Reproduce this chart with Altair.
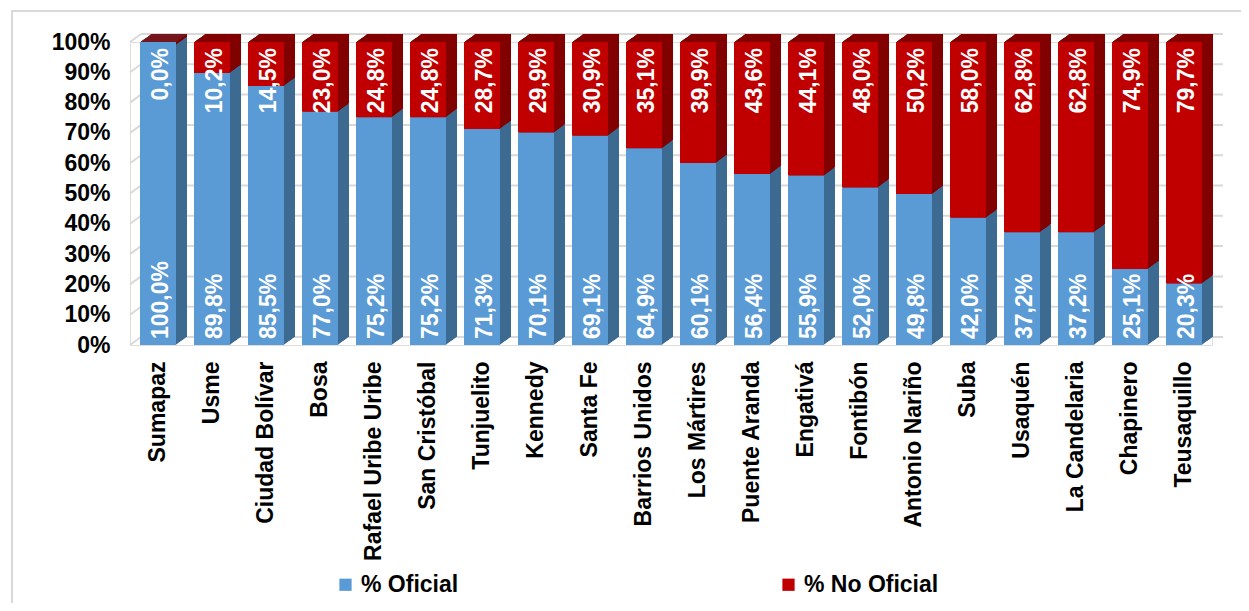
import altair as alt
import pandas as pd

distritos = ["Sumapaz", "Usme", "Ciudad Bolívar", "Bosa", "Rafael Uribe Uribe",
             "San Cristóbal", "Tunjuelito", "Kennedy", "Santa Fe", "Barrios Unidos",
             "Los Mártires", "Puente Aranda", "Engativá", "Fontibón", "Antonio Nariño",
             "Suba", "Usaquén", "La Candelaria", "Chapinero", "Teusaquillo"]
oficial = [100.0, 89.8, 85.5, 77.0, 75.2, 75.2, 71.3, 70.1, 69.1, 64.9,
           60.1, 56.4, 55.9, 52.0, 49.8, 42.0, 37.2, 37.2, 25.1, 20.3]
no_oficial = [0.0, 10.2, 14.5, 23.0, 24.8, 24.8, 28.7, 29.9, 30.9, 35.1,
              39.9, 43.6, 44.1, 48.0, 50.2, 58.0, 62.8, 62.8, 74.9, 79.7]
series = ["% Oficial", "% No Oficial"]
y_ticks = [0.0, 0.1, 0.2, 0.3, 0.4, 0.5, 0.6, 0.7, 0.8, 0.9, 1.0]

FRONT = ["#5B9BD5", "#C00000"]
DARK = ["#3D6A92", "#820000"]
FONT = "Liberation Sans"
W, H = 1082, 303
DX, DY = 11, 8
NCOPY = 11

rows = []
for d, o, n in zip(distritos, oficial, no_oficial):
    rows.append({"distrito": d, "serie": series[0], "ord": 0, "value": o / 100, "dark": DARK[0]})
    rows.append({"distrito": d, "serie": series[1], "ord": 1, "value": n / 100, "dark": DARK[1]})
df = pd.DataFrame(rows)

lab = pd.DataFrame({
    "distrito": distritos,
    "lab_o": [f"{v:.1f}%".replace(".", ",") for v in oficial],
    "lab_n": [f"{v:.1f}%".replace(".", ",") for v in no_oficial],
})
grid = pd.DataFrame({"t": y_ticks})

xaxis = alt.Axis(title=None, labelAngle=-90, labelFontSize=23, labelFont=FONT,
                 labelFontWeight="bold", labelColor="#000000", labelPadding=16,
                 domain=False, ticks=False, labelLimit=400)
xenc = alt.X("distrito:N", sort=distritos,
             scale=alt.Scale(paddingInner=0.333, paddingOuter=0.185), axis=xaxis)
yscale = alt.Scale(domain=[0, 1], nice=False)
yaxis = alt.Axis(title=None, values=y_ticks, format=".0%", labelFontSize=23,
                 labelFont=FONT, labelFontWeight="bold", labelColor="#000000",
                 labelPadding=20, domain=False, ticks=False, grid=False,
                 labelOverlap=False)
yenc = alt.Y("value:Q", stack="zero", scale=yscale, axis=yaxis)

layers = []

# back wall gridlines
g1 = alt.Chart(grid).mark_rule(color="#D9D9D9", strokeWidth=2, xOffset=DX, x2Offset=DX,
                                yOffset=-DY, y2Offset=-DY).encode(
    x=alt.value(0), x2=alt.value(W), y=alt.Y("t:Q", scale=yscale, axis=yaxis))
g2 = alt.Chart(grid).mark_rule(color="#D9D9D9", strokeWidth=2, y2Offset=-DY).encode(
    x=alt.value(0), x2=alt.value(DX), y=alt.Y("t:Q", scale=yscale, axis=yaxis), y2="t:Q")
layers += [g1, g2]

# frame
frame = alt.Chart(pd.DataFrame({"a": [0]})).mark_rect(
    fill="transparent", stroke="#D9D9D9", strokeWidth=2
).encode(x=alt.value(-118), x2=alt.value(1130), y=alt.value(-31), y2=alt.value(640))
layers.append(frame)

# 3D depth copies (back to front)
base = alt.Chart(df)
topd = alt.Chart(pd.DataFrame({"distrito": distritos}))
for k in range(NCOPY, 0, -1):
    ox = DX * k / NCOPY
    oy = -DY * k / NCOPY
    layers.append(base.mark_bar(xOffset=ox, x2Offset=ox, yOffset=oy, y2Offset=oy).encode(
        x=xenc, y=yenc, color=alt.Color("dark:N", scale=None),
        order=alt.Order("ord:Q"), detail="serie:N"))
    layers.append(topd.mark_bar(color=DARK[1], xOffset=ox, x2Offset=ox, yOffset=oy,
                                y2Offset=oy).encode(
        x=xenc, y=alt.YDatum(0.99, scale=yscale, axis=yaxis), y2=alt.datum(1.0)))

front = base.mark_bar().encode(
    x=xenc, y=yenc,
    color=alt.Color("serie:N", scale=alt.Scale(domain=series, range=FRONT),
                    legend=alt.Legend(title=None, orient="none", legendX=204, legendY=531,
                                      direction="horizontal", symbolType="square",
                                      symbolSize=150, symbolStrokeWidth=0,
                                      labelFontSize=23, labelFont=FONT,
                                      labelFontWeight="bold", labelColor="#000000",
                                      labelOffset=4, columnPadding=318, labelLimit=400)),
    order=alt.Order("ord:Q"))
layers.append(front)

t_o = alt.Chart(lab).mark_text(angle=270, align="left", baseline="middle", dx=6, dy=3,
                               color="white", fontSize=23, font=FONT, fontWeight="bold").encode(
    x=alt.X("distrito:N", sort=distritos),
    y=alt.YDatum(0, scale=yscale, axis=yaxis), text="lab_o:N")
t_n = alt.Chart(lab).mark_text(angle=270, align="right", baseline="middle", dx=-6, dy=3,
                               color="white", fontSize=23, font=FONT, fontWeight="bold").encode(
    x=alt.X("distrito:N", sort=distritos),
    y=alt.YDatum(1, scale=yscale, axis=yaxis), text="lab_n:N")
layers += [t_o, t_n]

chart = alt.layer(*layers).properties(
    width=W, height=H,
    autosize=alt.AutoSizeParams(type="none"),
    padding={"left": 122, "top": 34, "right": 29, "bottom": 258},
).configure_view(stroke=None).configure(background="white").configure_axisY(labelOverlap=False)

chart.save("out.html", embed_options={"renderer": "svg", "actions": False})
